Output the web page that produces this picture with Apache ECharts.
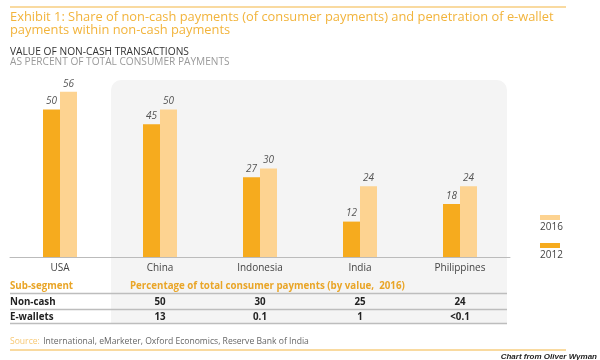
<!DOCTYPE html>
<html>
<head>
<meta charset="utf-8">
<script src="https://cdn.jsdelivr.net/npm/echarts@6/dist/echarts.min.js"></script>
<style>html,body{margin:0;padding:0;background:#fff}#c{width:600px;height:360px}</style>
</head>
<body>
<div id="c"></div>
<script>
var categories = ['USA', 'China', 'Indonesia', 'India', 'Philippines'];
var values2012 = [50, 45, 27, 12, 18];
var values2016 = [56, 50, 30, 24, 24];
var seriesNames = ['2012', '2016'];
var tableCols = ['China', 'Indonesia', 'India', 'Philippines'];
var tableNonCash = ['50', '30', '25', '24'];
var tableEwallets = ['13', '0.1', '1', '<0.1'];

var C_DARK = '#F6AB1E', C_LIGHT = '#FDD391', ORANGE = '#F2B43C';
var FONT = '"Open Sans", Lato, sans-serif';
var ctx = document.createElement('canvas').getContext('2d');
function fit(text, weight, width) {
  ctx.font = weight + ' 100px ' + FONT;
  var w = ctx.measureText(text).width;
  return weight + ' ' + (100 * width / w).toFixed(2) + 'px ' + FONT;
}
var chart = echarts.init(document.getElementById('c'), null, {renderer: 'canvas'});

var left = 10, right = 510, cw = (right - left) / categories.length;
function cx(name) { return left + cw * (categories.indexOf(name) + 0.5); }

var t1 = 'Exhibit 1: Share of non-cash payments (of consumer payments) and penetration of e-wallet';
var t2 = 'payments within non-cash payments';
var titleFont = fit(t1, 'normal', 544);
var hdr = 'Percentage of total consumer payments (by value,  2016)';
var boldFont = fit(hdr, 'bold', 275);
var srcText = 'International, eMarketer, Oxford Economics, Reserve Bank of India';
var srcFont = fit('Source: ' + srcText, 'normal', 298);

var g = [
  {type: 'rect', z: -10, shape: {x: 111, y: 80, width: 396, height: 243, r: [10, 10, 0, 0]}, style: {fill: '#F4F4F4'}},
  {type: 'line', shape: {x1: 10, y1: 7, x2: 566, y2: 7}, style: {stroke: '#F7CE80', lineWidth: 1.5}},
  {type: 'text', x: 10, y: 17, style: {text: t1, fill: ORANGE, font: titleFont, verticalAlign: 'middle'}},
  {type: 'text', x: 10, y: 30.5, style: {text: t2, fill: ORANGE, font: titleFont, verticalAlign: 'middle'}},
  {type: 'text', x: 10, y: 52, style: {text: 'VALUE OF NON-CASH TRANSACTIONS', fill: '#333', font: fit('VALUE OF NON-CASH TRANSACTIONS', 'normal', 179), verticalAlign: 'middle'}},
  {type: 'text', x: 10, y: 62, style: {text: 'AS PERCENT OF TOTAL CONSUMER PAYMENTS', fill: '#9A9A9A', font: fit('AS PERCENT OF TOTAL CONSUMER PAYMENTS', 'normal', 220), verticalAlign: 'middle'}},
  // legend
  {type: 'rect', shape: {x: 540, y: 215, width: 20, height: 5}, style: {fill: C_LIGHT}},
  {type: 'text', x: 540, y: 222, style: {text: seriesNames[1], fill: '#444', font: '10px ' + FONT}},
  {type: 'rect', shape: {x: 540, y: 243, width: 20, height: 5}, style: {fill: C_DARK}},
  {type: 'text', x: 540, y: 250, style: {text: seriesNames[0], fill: '#444', font: '10px ' + FONT}},
  // table
  {type: 'text', x: 10, y: 286, style: {text: 'Sub-segment', fill: '#E9A527', font: boldFont, verticalAlign: 'middle'}},
  {type: 'text', x: 130, y: 286, style: {text: hdr, fill: '#E9A527', font: boldFont, verticalAlign: 'middle'}},
  {type: 'line', shape: {x1: 10, y1: 293.5, x2: 507, y2: 293.5}, style: {stroke: '#BDBDBD', lineWidth: 1.5}},
  {type: 'text', x: 10, y: 302, style: {text: 'Non-cash', fill: '#222', font: boldFont, verticalAlign: 'middle'}},
  {type: 'line', shape: {x1: 10, y1: 309.5, x2: 507, y2: 309.5}, style: {stroke: '#BDBDBD', lineWidth: 1.5}},
  {type: 'text', x: 10, y: 317, style: {text: 'E-wallets', fill: '#222', font: boldFont, verticalAlign: 'middle'}},
  {type: 'line', shape: {x1: 10, y1: 323.5, x2: 507, y2: 323.5}, style: {stroke: '#BDBDBD', lineWidth: 1.5}},
  {type: 'text', x: 10, y: 342, style: {verticalAlign: 'middle', rich: {a: {fill: '#F7C873', font: srcFont}, b: {fill: '#666', font: srcFont}}, text: '{a|Source:} {b|' + srcText + '}'}},
  {type: 'line', shape: {x1: 10, y1: 350, x2: 566, y2: 350}, style: {stroke: '#F7CE80', lineWidth: 1.5}},
  {type: 'text', x: 597, y: 353, style: {text: 'Chart from Oliver Wyman', fill: '#222', font: 'italic bold 8px Arial, sans-serif', align: 'right'}}
];
tableCols.forEach(function (c, i) {
  g.push({type: 'text', x: cx(c), y: 302, style: {text: tableNonCash[i], fill: '#222', font: boldFont, align: 'center', verticalAlign: 'middle'}});
  g.push({type: 'text', x: cx(c), y: 317, style: {text: tableEwallets[i], fill: '#222', font: boldFont, align: 'center', verticalAlign: 'middle'}});
});

var labelStyle = {show: true, position: 'top', distance: 3, color: '#555', fontStyle: 'italic', fontSize: 10, fontFamily: FONT};
chart.setOption({
  animation: false,
  grid: {left: 10, right: 90, top: 80, bottom: 103},
  xAxis: {type: 'category', data: categories, axisTick: {show: false},
    axisLine: {lineStyle: {color: '#BBBBBB', width: 1}},
    axisLabel: {color: '#444', fontSize: 10, fontFamily: FONT, margin: 6}},
  yAxis: {type: 'value', min: 0, max: 60, show: false, splitLine: {show: false}},
  series: [
    {name: seriesNames[0], type: 'bar', data: values2012, barWidth: 17, barGap: '0%', itemStyle: {color: C_DARK}, label: labelStyle, z: 5},
    {name: seriesNames[1], type: 'bar', data: values2016, barWidth: 17, barGap: '0%', itemStyle: {color: C_LIGHT}, label: labelStyle, z: 5}
  ],
  graphic: g
});
</script>
</body>
</html>
